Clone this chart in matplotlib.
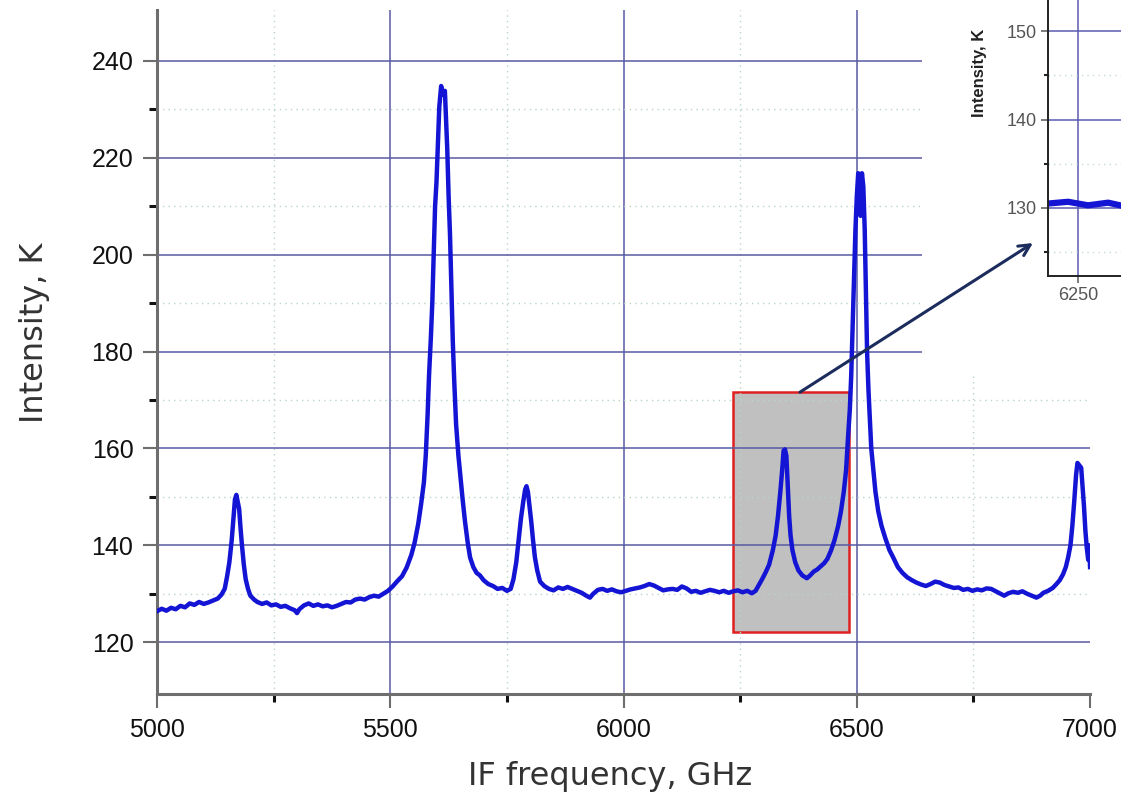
import numpy as np
import matplotlib.pyplot as plt
from matplotlib.patches import Rectangle, ConnectionPatch
from matplotlib.ticker import MultipleLocator, FixedLocator

plt.rcParams['font.family'] = ['Liberation Sans', 'DejaVu Sans']

########### data (GHz, K)
freq = [5000, 5010, 5020, 5030, 5040, 5050, 5060, 5070, 5080, 5090, 5100, 5110, 5120, 5130, 5138,
        5145, 5150, 5155, 5160, 5164, 5167, 5170, 5173, 5176, 5179, 5182, 5186, 5190, 5195, 5200,
        5208, 5215, 5225, 5235, 5245, 5255, 5265, 5275, 5285, 5295, 5300, 5305, 5315, 5325, 5335,
        5345, 5355, 5365, 5375, 5385, 5395, 5405, 5415, 5425, 5435, 5445, 5455, 5465, 5475, 5485,
        5495, 5505, 5515, 5525, 5535, 5545, 5552, 5560, 5566, 5572, 5576, 5580, 5583, 5587, 5590,
        5593, 5596, 5599, 5602, 5605, 5609, 5613, 5617, 5620, 5622, 5625, 5628, 5631, 5634, 5637,
        5641, 5646, 5650, 5655, 5660, 5666, 5671, 5678, 5685, 5692, 5700, 5710, 5720, 5730, 5740,
        5750, 5758, 5764, 5770, 5775, 5780, 5785, 5789, 5792, 5795, 5798, 5802, 5806, 5810, 5815,
        5821, 5830, 5840, 5850, 5860, 5870, 5880, 5890, 5900, 5910, 5920, 5928, 5935, 5945, 5955,
        5965, 5975, 5985, 5995, 6005, 6015, 6025, 6035, 6045, 6055, 6065, 6075, 6085, 6095, 6105,
        6115, 6125, 6135, 6145, 6155, 6165, 6175, 6185, 6195, 6205, 6215, 6225, 6235, 6245, 6255,
        6265, 6275, 6283, 6290, 6297, 6305, 6312, 6320, 6326, 6331, 6336, 6340, 6343, 6346, 6349,
        6352, 6355, 6358, 6362, 6368, 6375, 6383, 6393, 6400, 6408, 6415, 6422, 6430, 6437, 6445,
        6452, 6460, 6466, 6472, 6477, 6481, 6485, 6488, 6491, 6494, 6497, 6500, 6503, 6506, 6508,
        6511, 6514, 6517, 6520, 6522, 6525, 6528, 6531, 6535, 6540, 6546, 6553, 6561, 6570, 6578,
        6588, 6598, 6608, 6618, 6628, 6638, 6648, 6658, 6668, 6678, 6688, 6698, 6708, 6718, 6728,
        6738, 6748, 6758, 6768, 6778, 6788, 6798, 6808, 6816, 6825, 6835, 6845, 6855, 6865, 6875,
        6885, 6893, 6900, 6910, 6920, 6928, 6935, 6942, 6948, 6953, 6958, 6962, 6966, 6970, 6973,
        6977, 6981, 6984, 6987, 6990, 6993, 6996, 6998, 7000]
intensity = [126.4, 126.9, 126.5, 127.1, 126.8, 127.5, 127.2, 128.0, 127.7, 128.3, 127.9, 128.2, 128.6, 129.0, 129.8,
             131.0, 133.5, 136.5, 141.0, 146.0, 149.5, 150.4, 149.0, 147.5, 143.5, 140.0, 136.0, 133.0, 131.0, 129.6,
             128.8, 128.3, 127.9, 128.2, 127.6, 127.8, 127.3, 127.5, 127.0, 126.6, 126.0, 126.8, 127.6, 128.0, 127.5,
             127.8, 127.4, 127.6, 127.2, 127.5, 127.9, 128.3, 128.2, 128.8, 129.0, 128.8, 129.3, 129.6, 129.4, 130.0,
             130.6, 131.5, 132.6, 133.6, 135.4, 138.0, 140.5, 144.5, 148.5, 153.0, 158.5, 167.0, 175.0, 183.0, 190.0,
             200.0, 210.0, 215.0, 223.0, 230.5, 234.8, 233.0, 233.8, 227.0, 222.0, 212.0, 204.0, 193.0, 182.0, 174.0,
             165.0, 158.5, 154.5, 149.5, 145.0, 140.5, 137.5, 135.5, 134.3, 133.8, 132.8, 132.0, 131.6, 131.0, 131.2,
             130.6, 131.0, 133.0, 136.5, 141.0, 145.5, 149.0, 151.5, 152.2, 151.0, 148.5, 145.0, 141.0, 137.5, 134.8,
             132.5, 131.6, 131.0, 130.7, 131.3, 131.0, 131.4, 131.0, 130.6, 130.2, 129.6, 129.2, 130.0, 130.8, 131.0,
             130.6, 130.9, 130.5, 130.3, 130.6, 130.9, 131.1, 131.3, 131.6, 132.0, 131.7, 131.2, 130.7, 130.9, 131.0,
             130.8, 131.5, 131.1, 130.4, 130.6, 130.2, 130.5, 130.8, 130.6, 130.3, 130.6, 130.2, 130.5, 130.7, 130.3,
             130.6, 130.1, 130.6, 131.8, 133.0, 134.5, 136.0, 139.0, 142.0, 146.0, 151.0, 155.5, 159.5, 159.8, 158.5,
             152.0, 146.0, 142.0, 139.0, 136.5, 134.8, 133.8, 133.2, 133.8, 134.6, 135.0, 135.6, 136.3, 137.2, 139.0,
             141.0, 144.0, 147.0, 151.0, 155.5, 162.0, 168.0, 175.0, 185.0, 195.0, 205.0, 212.0, 216.8, 214.0, 208.0,
             216.8, 214.0, 205.0, 190.0, 180.0, 172.0, 166.0, 160.0, 156.0, 151.0, 147.0, 144.0, 141.5, 139.0, 137.5,
             135.5, 134.3, 133.4, 132.8, 132.3, 131.9, 131.6, 132.0, 132.5, 132.3, 131.8, 131.5, 131.2, 131.3, 130.8,
             131.0, 130.6, 130.9, 130.7, 131.1, 131.0, 130.5, 130.0, 129.6, 130.1, 130.4, 130.2, 130.5, 130.0, 129.6,
             129.2, 129.6, 130.2, 130.6, 131.2, 132.0, 132.8, 134.0, 135.5, 137.5, 140.0, 144.0, 149.0, 154.5, 157.0,
             156.5, 156.0, 152.0, 148.0, 143.0, 139.5, 137.0, 140.0, 135.5]

# zoomed region (marked box) and where the arrow starts
box_x = [6234, 6483]
box_y = [122.2, 171.6]
arrow_from = (6378, 171.6)

xticks = [5000, 5500, 6000, 6500, 7000]
yticks = [120, 140, 160, 180, 200, 220, 240]

fig = plt.figure(figsize=(11.21, 7.97), dpi=100)
ax = fig.add_axes([0.1401, 0.1292, 0.8323, 0.8583])

ax.plot(freq, intensity, color='#1414d4', lw=3.2, zorder=3)
ax.add_patch(Rectangle((box_x[0], box_y[0]), box_x[1] - box_x[0], box_y[1] - box_y[0],
                       facecolor='#c0c0c0', edgecolor='#e02020', lw=1.8, zorder=1))

ax.set_xlim(5000, 7000)
ax.set_ylim(109.3, 250.5)
ax.set_xticks(xticks)
ax.xaxis.set_minor_locator(MultipleLocator(250))
ax.set_yticks(yticks)
ax.yaxis.set_minor_locator(FixedLocator(np.arange(130, 231, 20)))

# major grid: horizontal at every y tick, vertical only between the ends
ax.grid(which='major', axis='y', color='#5a5aa4', lw=1.1, zorder=1.5)
for xv in xticks[1:-1]:
    ax.axvline(xv, color='#5a5aa4', lw=1.1, zorder=1.5)
ax.grid(which='minor', color='#b8d6c6', lw=1.0, ls=(0, (1, 3)))
for s in ['top', 'right']:
    ax.spines[s].set_visible(False)
for s in ['left', 'bottom']:
    ax.spines[s].set_color('#6e6e6e')
    ax.spines[s].set_linewidth(2.2)
ax.tick_params(which='major', direction='out', length=10, width=1.5, color='#6e6e6e',
               labelsize=18, labelcolor='#111111', pad=7)
ax.tick_params(which='minor', direction='out', length=6, width=2.2, color='#111111')

ax.set_xlabel('IF frequency, GHz', fontsize=23, color='#333333', va='center', family='DejaVu Sans')
ax.xaxis.set_label_coords(0.486, -0.121)
ax.set_ylabel('Intensity, K', fontsize=23, color='#333333', va='center', family='DejaVu Sans')
ax.yaxis.set_label_coords(-0.131, 0.528)

# white panel behind the inset
fig.add_artist(Rectangle((922 / 1121, 1 - 375 / 797), 1 - 922 / 1121, 375 / 797,
                         transform=fig.transFigure, facecolor='white', edgecolor='none', zorder=1))

########### inset
axin = fig.add_axes([0.9349, 0.6537, 0.30, 0.3714])
axin.set_zorder(2)
axin.plot(freq, intensity, color='#1414d4', lw=4.5)
axin.set_xlim(6235, 6403)
axin.set_ylim(122.3, 155.8)
axin.set_xticks([6250])
axin.set_yticks([130, 140, 150])
axin.yaxis.set_minor_locator(MultipleLocator(5))
axin.grid(which='major', color='#5a5ab0', lw=1.1)
axin.grid(which='minor', axis='y', color='#c4dcd0', lw=1.0, ls=(0, (1, 3)))
for s in ['top', 'right']:
    axin.spines[s].set_visible(False)
for s in ['left', 'bottom']:
    axin.spines[s].set_color('#222222')
    axin.spines[s].set_linewidth(1.4)
axin.tick_params(which='major', direction='out', length=5, width=1.2, color='#666666',
                 labelsize=13, labelcolor='#555555', pad=3)
axin.tick_params(which='minor', direction='out', length=3, width=1.5, color='#222222')
axin.set_ylabel('Intensity, K', fontsize=12, fontweight='bold', color='#222222', va='center')
axin.yaxis.set_label_coords(-0.205, 0.686)

con = ConnectionPatch(xyA=arrow_from, coordsA=ax.transData,
                      xyB=(1033 / 1121, 1 - 243 / 797), coordsB=fig.transFigure,
                      arrowstyle='->,head_length=0.8,head_width=0.4', color='#1c2c5c', lw=2.2)
con.set_zorder(5)
fig.add_artist(con)

plt.savefig('out.png', dpi=100)
print("saved out.png")
